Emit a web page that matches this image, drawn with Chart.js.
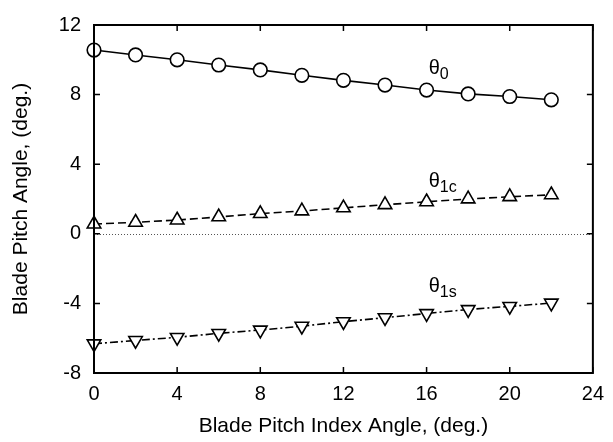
<!DOCTYPE html>
<html><head><meta charset="utf-8">
<script src="https://cdn.jsdelivr.net/npm/chart.js@4"></script>
<style>html,body{margin:0;padding:0;background:#fff}#wrap{width:613px;height:442px}</style>
</head><body><div id="wrap"><canvas id="c" width="613" height="442"></canvas></div>
<script>
const indexAngles = [0, 2, 4, 6, 8, 10, 12, 14, 16, 18, 20, 22];
const theta0  = [10.56, 10.28, 10.0, 9.70, 9.42, 9.11, 8.82, 8.55, 8.26, 8.04, 7.89, 7.70];
const theta1c = [0.56, 0.66, 0.79, 0.97, 1.16, 1.31, 1.49, 1.67, 1.84, 2.0, 2.13, 2.24];
const theta1s = [-6.32, -6.13, -5.95, -5.72, -5.53, -5.31, -5.05, -4.82, -4.58, -4.35, -4.17, -3.98];
const xTicks = [0, 4, 8, 12, 16, 20, 24];
const yTicks = [-8, -4, 0, 4, 8, 12];
const seriesLabels = [
  {sub: '0',  x: 16.1, y: 9.18},
  {sub: '1c', x: 16.1, y: 2.68},
  {sub: '1s', x: 16.1, y: -3.33}
];
const FONT = "'Liberation Sans', Arial, sans-serif";

function pts(ys){ return indexAngles.map((x,i)=>({x:x, y:ys[i]})); }

const framePlugin = {
  id: 'frame',
  beforeDatasetsDraw(chart){
    const {ctx, chartArea:a, scales:{y}} = chart;
    ctx.save();
    ctx.strokeStyle = '#555';
    ctx.lineWidth = 1;
    ctx.setLineDash([1,2]);
    const y0 = Math.round(y.getPixelForValue(0)) + 0.5;
    ctx.beginPath(); ctx.moveTo(a.left, y0); ctx.lineTo(a.right, y0); ctx.stroke();
    ctx.restore();
  },
  afterDatasetsDraw(chart){
    const {ctx, chartArea:a, scales:{x, y}} = chart;
    ctx.save();
    ctx.strokeStyle = '#000';
    ctx.lineWidth = 2;
    ctx.setLineDash([]);
    ctx.strokeRect(a.left, a.top, a.right - a.left, a.bottom - a.top);
    const L = 6;
    ctx.lineWidth = 1.5;
    ctx.beginPath();
    xTicks.forEach(v=>{
      const px = x.getPixelForValue(v);
      ctx.moveTo(px, a.bottom); ctx.lineTo(px, a.bottom - L);
      ctx.moveTo(px, a.top); ctx.lineTo(px, a.top + L);
    });
    yTicks.forEach(v=>{
      const py = y.getPixelForValue(v);
      ctx.moveTo(a.left, py); ctx.lineTo(a.left + L, py);
      ctx.moveTo(a.right, py); ctx.lineTo(a.right - L, py);
    });
    ctx.stroke();
    ctx.fillStyle = '#000';
    ctx.textBaseline = 'alphabetic';
    ctx.textAlign = 'left';
    seriesLabels.forEach(l=>{
      const px = x.getPixelForValue(l.x), py = y.getPixelForValue(l.y);
      ctx.font = '20px ' + FONT;
      ctx.fillText('θ', px, py);
      const w = ctx.measureText('θ').width;
      ctx.font = '16px ' + FONT;
      ctx.fillText(l.sub, px + w, py + 5);
    });
    ctx.restore();
  }
};

const common = {
  pointBackgroundColor: '#fff',
  pointBorderColor: '#000',
  pointBorderWidth: 1.6,
  borderColor: '#000',
  borderWidth: 1.6,
  fill: false,
  tension: 0,
  clip: false
};

new Chart(document.getElementById('c'), {
  type: 'line',
  data: {
    datasets: [
      Object.assign({label: 'θ0', data: pts(theta0), pointStyle: 'circle', pointRadius: 6.8}, common),
      Object.assign({label: 'θ1c', data: pts(theta1c), pointStyle: 'triangle', pointRadius: 7.8, borderDash: [8,4]}, common),
      Object.assign({label: 'θ1s', data: pts(theta1s), pointStyle: 'triangle', pointRotation: 180, pointRadius: 7.8, borderDash: [8,3,2,3]}, common)
    ]
  },
  options: {
    responsive: false,
    animation: false,
    layout: {padding: {left: 0, top: 18, right: 16, bottom: 0}},
    plugins: {legend: {display: false}, tooltip: {enabled: false}},
    scales: {
      x: {
        type: 'linear', min: 0, max: 24,
        afterBuildTicks(s){ s.ticks = xTicks.map(v=>({value:v})); },
        afterFit(s){ s.height = 69; },
        grid: {display: false, drawTicks: false},
        border: {display: false},
        ticks: {padding: 9, color: '#000', font: {family: FONT, size: 20}, maxRotation: 0},
        title: {display: true, text: 'Blade Pitch Index Angle, (deg.)', color: '#000', font: {family: FONT, size: 21}, padding: {top: 0, bottom: 3}}
      },
      y: {
        type: 'linear', min: -8, max: 12,
        afterBuildTicks(s){ s.ticks = yTicks.map(v=>({value:v})); },
        afterFit(s){ s.width = 94; },
        grid: {display: false, drawTicks: false},
        border: {display: false},
        ticks: {padding: 13, color: '#000', font: {family: FONT, size: 20}},
        title: {display: true, text: 'Blade Pitch Angle, (deg.)', color: '#000', font: {family: FONT, size: 21}, padding: {top: 9, bottom: 0}}
      }
    }
  },
  plugins: [framePlugin]
});
</script>
</body></html>
